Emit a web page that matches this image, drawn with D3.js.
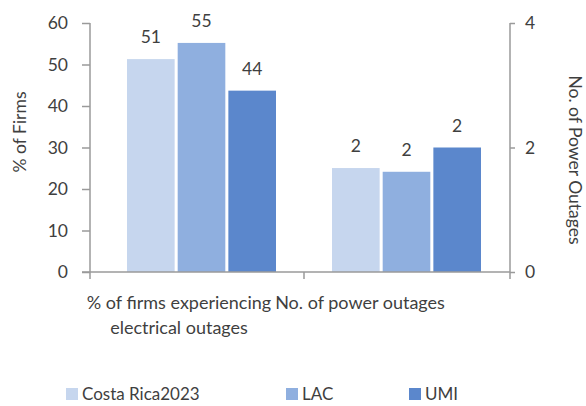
<!DOCTYPE html>
<html>
<head>
<meta charset="utf-8">
<script src="https://cdn.jsdelivr.net/npm/d3@7"></script>
<style>
  html, body { margin: 0; padding: 0; background: #fff; }
  svg text { font-family: Lato, "Open Sans", sans-serif; fill: #3f3f3f; }
</style>
</head>
<body>
<svg id="chart" width="586" height="406"></svg>
<script>
// Indicators on the horizontal axis (each line of a label is its own entry)
const categories = ["firms", "outages"];
const categoryLabels = [["% of firms experiencing", "electrical outages"], ["No. of power outages"]];
const series = ["Costa Rica2023", "LAC", "UMI"];
// % of firms experiencing electrical outages (left axis)
const firmsValues = [51.3, 55.2, 43.7];
// Number of power outages in a typical month (right axis)
const outageValues = [1.67, 1.61, 2.0];
const leftTicks = [0, 10, 20, 30, 40, 50, 60];
const rightTicks = [0, 2, 4];
const colors = ["#c6d6ee", "#8fafdf", "#5b87cc"];

const svg = d3.select("#chart");
const axisColor = "#9a9a9a";

const yLeft = d3.scaleLinear().domain([0, 60]).range([272, 23]);
const yRight = d3.scaleLinear().domain([0, 4]).range([272, 23]);
const rightX = 510;

// category bands (tick boundaries) and bar placement bands
const xCat = d3.scaleBand().domain(categories).range([90, 518]);
const xBars = d3.scaleBand().domain(categories).range([99, 509]);
const xInner = d3.scaleBand().domain(series).range([-74.5, 74.5]).paddingInner(0.06);

const groups = [
  { cat: "firms", values: firmsValues, y: yLeft },
  { cat: "outages", values: outageValues, y: yRight }
];

const fmt = d3.format(".0f");

groups.forEach(g => {
  const cx = xBars(g.cat) + xBars.bandwidth() / 2;
  const gSel = svg.append("g").attr("transform", `translate(${cx},0)`);
  gSel.selectAll("rect")
    .data(series.map((s, i) => ({ s, v: g.values[i], c: colors[i] })))
    .join("rect")
    .attr("x", d => xInner(d.s))
    .attr("width", xInner.bandwidth())
    .attr("y", d => g.y(d.v))
    .attr("height", d => g.y(0) - g.y(d.v))
    .attr("fill", d => d.c);
  gSel.selectAll("text.val")
    .data(series.map((s, i) => ({ s, v: g.values[i] })))
    .join("text")
    .attr("class", "val")
    .attr("x", d => xInner(d.s) + xInner.bandwidth() / 2)
    .attr("y", d => g.y(d.v) - 16)
    .attr("text-anchor", "middle")
    .style("font-size", "17.5px")
    .text(d => fmt(d.v));
});

// left axis
const leftAxis = svg.append("g")
  .attr("transform", "translate(90,0)")
  .call(d3.axisLeft(yLeft).tickValues(leftTicks).tickSize(8).tickPadding(14).tickFormat(d3.format("d")));
leftAxis.selectAll("text").style("font-size", "17.5px").attr("fill", "#3f3f3f");

// right axis
const rightAxis = svg.append("g")
  .attr("transform", `translate(${rightX},0)`)
  .call(d3.axisRight(yRight).tickValues(rightTicks).tickSize(5).tickPadding(10).tickFormat(d3.format("d")));
rightAxis.selectAll("text").style("font-size", "17.5px").attr("fill", "#3f3f3f");

[leftAxis, rightAxis].forEach(a => {
  a.select(".domain").attr("stroke", axisColor).attr("stroke-width", 1.5).attr("d", null);
  a.selectAll(".tick line").attr("stroke", axisColor).attr("stroke-width", 1.5);
});
leftAxis.select(".domain").attr("d", `M0,${yLeft(60)}V${yLeft(0) + 7}`);
rightAxis.select(".domain").attr("d", `M0,${yRight(4)}V${yRight(0) + 7}`);

// horizontal category axis
svg.append("line")
  .attr("x1", 82).attr("x2", rightX)
  .attr("y1", yLeft(0)).attr("y2", yLeft(0))
  .attr("stroke", axisColor).attr("stroke-width", 1.5);
svg.append("line")
  .attr("x1", xCat("outages")).attr("x2", xCat("outages"))
  .attr("y1", yLeft(0)).attr("y2", yLeft(0) + 7)
  .attr("stroke", axisColor).attr("stroke-width", 1.5);

// category labels
const labelCenters = [179, 360];
categories.forEach((c, i) => {
  const t = svg.append("text")
    .attr("x", labelCenters[i])
    .attr("y", 309)
    .attr("text-anchor", "middle")
    .style("font-size", "18px");
  categoryLabels[i].forEach((line, j) => {
    t.append("tspan").attr("x", labelCenters[i]).attr("dy", j === 0 ? 0 : 25).text(line);
  });
});

// axis titles
svg.append("text")
  .attr("transform", "translate(26,132) rotate(-90)")
  .attr("text-anchor", "middle")
  .style("font-size", "17.5px")
  .text("% of Firms");
svg.append("text")
  .attr("transform", "translate(569,160) rotate(90)")
  .attr("text-anchor", "middle")
  .style("font-size", "17.5px")
  .text("No. of Power Outages");

// legend
const legendX = [66, 286, 409];
const legend = svg.append("g");
series.forEach((s, i) => {
  legend.append("rect")
    .attr("x", legendX[i]).attr("y", 388)
    .attr("width", 12).attr("height", 12)
    .attr("fill", colors[i]);
  legend.append("text")
    .attr("x", legendX[i] + 16).attr("y", 400)
    .style("font-size", "17px")
    .text(s);
});
</script>
</body>
</html>
